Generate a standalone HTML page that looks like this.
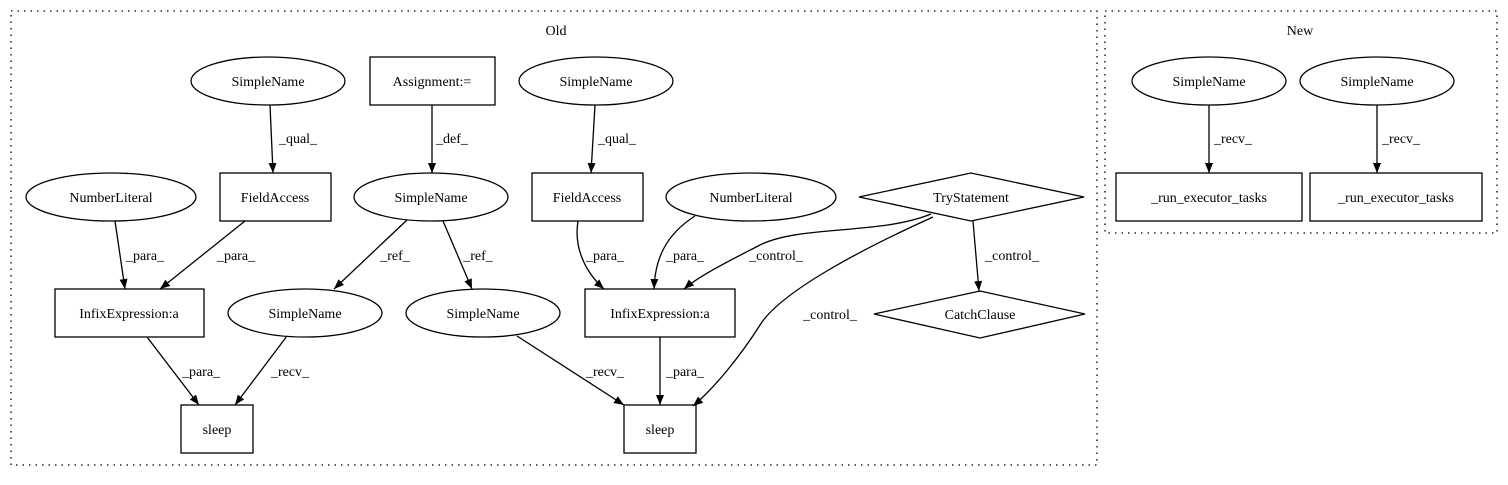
<!DOCTYPE html>
<html><head><meta charset="utf-8"><style>
html,body{margin:0;padding:0;background:#fff;}
svg text{font-family:"Liberation Serif",serif;font-size:14px;fill:#000;}
</style></head><body>
<svg width="1508" height="480" viewBox="0 0 1508 480" xmlns="http://www.w3.org/2000/svg">
<defs>
<marker id="a" markerWidth="10" markerHeight="8" refX="10" refY="4" orient="auto" markerUnits="userSpaceOnUse">
<path d="M0,0 L10,4 L0,8 Z" fill="#000"/>
</marker>
</defs>
<g fill="none" stroke="#000" stroke-width="1.3" stroke-dasharray="1.5,5">
<rect x="11" y="11" width="1086" height="454"/>
<rect x="1105" y="11" width="392" height="222"/>
</g>
<text x="556" y="35" text-anchor="middle">Old</text>
<text x="1300" y="35" text-anchor="middle">New</text>

<g fill="none" stroke="#000" stroke-width="1.3">
<!-- nodes -->
<ellipse cx="268" cy="81" rx="77" ry="24"/>
<rect x="370" y="57" width="125" height="48"/>
<ellipse cx="596" cy="81" rx="77" ry="24"/>
<ellipse cx="111" cy="197" rx="85" ry="24"/>
<rect x="220" y="173" width="111" height="48"/>
<ellipse cx="431" cy="197" rx="77" ry="24"/>
<rect x="532" y="173" width="111" height="48"/>
<ellipse cx="751" cy="197" rx="85" ry="24"/>
<polygon points="859,197 971,173 1084,197 971,221"/>
<rect x="55" y="289" width="149" height="48"/>
<ellipse cx="305" cy="313" rx="77" ry="24"/>
<ellipse cx="483" cy="313" rx="77" ry="24"/>
<rect x="585" y="289" width="150" height="48"/>
<polygon points="874,314 980,291 1085,314 980,338"/>
<rect x="181" y="405" width="72" height="48"/>
<rect x="624" y="405" width="72" height="48"/>
<ellipse cx="1209" cy="81" rx="77" ry="24"/>
<ellipse cx="1377" cy="81" rx="77" ry="24"/>
<rect x="1116" y="173" width="186" height="48"/>
<rect x="1310" y="173" width="172" height="48"/>
</g>

<g fill="none" stroke="#000" stroke-width="1.3" marker-end="url(#a)">
<path d="M270,105 L273,173"/>
<path d="M432,105 L432,173"/>
<path d="M595,105 L591,173"/>
<path d="M115,221 L125,289"/>
<path d="M245,221 L160,289"/>
<path d="M407,220 L334,289"/>
<path d="M443,221 L472,289"/>
<path d="M578,221 C574,245 583,270 604,289"/>
<path d="M695,216 C665,235 655,260 654,289"/>
<path d="M931,214 C880,235 800,225 760,245 C735,258 700,275 684,289"/>
<path d="M933,217 C860,250 785,290 762,322 C738,360 712,390 693,406"/>
<path d="M973,221 L979,291"/>
<path d="M147,337 L199,405"/>
<path d="M287,336 L235,405"/>
<path d="M517,336 L624,405"/>
<path d="M660,337 L660,405"/>
<path d="M1209,105 L1209,173"/>
<path d="M1377,105 L1377,173"/>
</g>

<g text-anchor="middle">
<text x="268" y="86">SimpleName</text>
<text x="432" y="86">Assignment:=</text>
<text x="596" y="86">SimpleName</text>
<text x="111" y="202">NumberLiteral</text>
<text x="275" y="202">FieldAccess</text>
<text x="431" y="202">SimpleName</text>
<text x="587" y="202">FieldAccess</text>
<text x="751" y="202">NumberLiteral</text>
<text x="971" y="202">TryStatement</text>
<text x="129" y="318">InfixExpression:a</text>
<text x="305" y="318">SimpleName</text>
<text x="483" y="318">SimpleName</text>
<text x="660" y="318">InfixExpression:a</text>
<text x="980" y="319">CatchClause</text>
<text x="217" y="434">sleep</text>
<text x="660" y="434">sleep</text>
<text x="1209" y="86">SimpleName</text>
<text x="1377" y="86">SimpleName</text>
<text x="1209" y="202">_run_executor_tasks</text>
<text x="1396" y="202">_run_executor_tasks</text>

<text x="298" y="143">_qual_</text>
<text x="452" y="143">_def_</text>
<text x="617" y="143">_qual_</text>
<text x="145" y="260">_para_</text>
<text x="236" y="260">_para_</text>
<text x="395" y="260">_ref_</text>
<text x="478" y="260">_ref_</text>
<text x="605" y="260">_para_</text>
<text x="685" y="260">_para_</text>
<text x="776" y="260">_control_</text>
<text x="1012" y="260">_control_</text>
<text x="830" y="319">_control_</text>
<text x="201" y="376">_para_</text>
<text x="290" y="376">_recv_</text>
<text x="605" y="376">_recv_</text>
<text x="685" y="376">_para_</text>
<text x="1233" y="143">_recv_</text>
<text x="1401" y="143">_recv_</text>
</g>
</svg>
</body></html>
